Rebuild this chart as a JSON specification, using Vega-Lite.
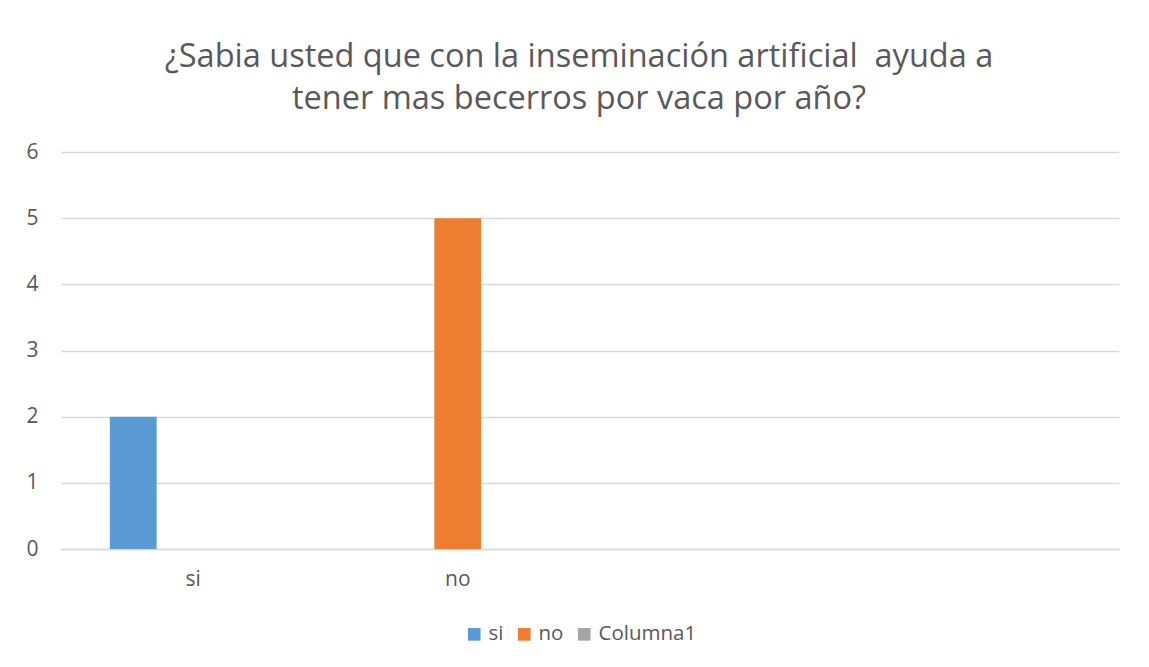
{
  "$schema": "https://vega.github.io/schema/vega-lite/v6.json",
  "autosize": {"type": "none"},
  "width": 1058,
  "height": 397,
  "padding": {"left": 61, "top": 152, "right": 30, "bottom": 118},
  "background": "white",
  "title": {
    "text": ["¿Sabia usted que con la inseminación artificial\u00a0 ayuda a", "tener mas becerros por vaca por año?"],
    "font": "Open Sans",
    "fontSize": 32.5,
    "fontWeight": "normal",
    "color": "#595959",
    "anchor": "middle",
    "lineHeight": 42,
    "offset": 26,
    "dx": -11
  },
  "data": {
    "values": [
      {"categoria": "si", "serie": "si", "valor": 2},
      {"categoria": "no", "serie": "no", "valor": 5}
    ]
  },
  "mark": {"type": "bar"},
  "encoding": {
    "x": {
      "field": "categoria",
      "type": "nominal",
      "sort": null,
      "title": null,
      "scale": {"domain": ["si", "no", "c3", "c4"], "paddingInner": 0.369, "paddingOuter": 0.1845},
      "axis": {
        "labelExpr": "datum.value == 'si' || datum.value == 'no' ? datum.value : ''",
        "labelAngle": 0,
        "labelPadding": 19,
        "labelFont": "Open Sans",
        "labelFontSize": 21,
        "labelColor": "#595959",
        "ticks": false,
        "domain": true,
        "domainColor": "#D9D9D9",
        "domainWidth": 1.5,
        "grid": false
      }
    },
    "xOffset": {
      "field": "serie",
      "type": "nominal",
      "scale": {"domain": ["si", "no", "Columna1"], "paddingInner": 0.22, "paddingOuter": 0}
    },
    "y": {
      "field": "valor",
      "type": "quantitative",
      "title": null,
      "scale": {"domain": [0, 6], "nice": false},
      "axis": {
        "values": [0, 1, 2, 3, 4, 5, 6],
        "labelPadding": 23,
        "labelFont": "Open Sans",
        "labelFontSize": 21,
        "labelColor": "#595959",
        "ticks": false,
        "domain": false,
        "gridColor": "#D9D9D9",
        "gridWidth": 1.5
      }
    },
    "color": {
      "field": "serie",
      "type": "nominal",
      "scale": {"domain": ["si", "no", "Columna1"], "range": ["#5B9BD5", "#ED7D31", "#A5A5A5"]},
      "legend": {
        "title": null,
        "orient": "none",
        "legendX": 403,
        "legendY": 472,
        "direction": "horizontal",
        "symbolType": "square",
        "symbolSize": 160,
        "symbolStrokeWidth": 0,
        "symbolOpacity": 1,
        "labelFont": "Open Sans",
        "labelFontSize": 20.5,
        "labelColor": "#595959",
        "labelOffset": 4,
        "columnPadding": 10
      }
    }
  },
  "config": {"view": {"stroke": null}}
}
